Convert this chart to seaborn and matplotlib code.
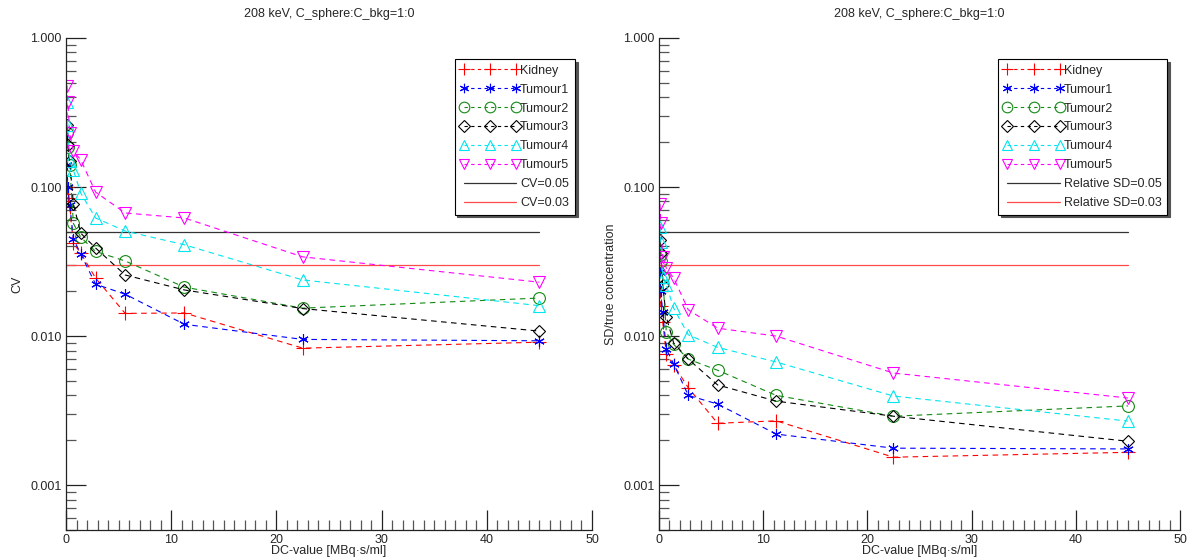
import numpy as np
import pandas as pd
import matplotlib
matplotlib.use("Agg")
import matplotlib.pyplot as plt
from matplotlib.lines import Line2D
from matplotlib.ticker import FixedLocator, FixedFormatter, MultipleLocator, LogLocator, NullFormatter
import seaborn as sns

# ---------------- data ----------------
dc_values = [0.088, 0.176, 0.352, 0.703, 1.406, 2.8125, 5.625, 11.25, 22.5, 45.0]
series_names = ["Kidney", "Tumour1", "Tumour2", "Tumour3", "Tumour4", "Tumour5"]

cv_kidney  = [0.100, 0.085, 0.073, 0.042, 0.036, 0.0245, 0.0142, 0.0143, 0.0083, 0.0091]
cv_tumour1 = [0.140, 0.100, 0.076, 0.045, 0.0355, 0.0223, 0.0191, 0.0120, 0.0095, 0.0093]
cv_tumour2 = [0.230, 0.185, 0.140, 0.057, 0.046, 0.037, 0.0319, 0.0213, 0.0154, 0.0180]
cv_tumour3 = [0.260, 0.190, 0.150, 0.077, 0.049, 0.039, 0.0257, 0.0204, 0.0153, 0.0108]
cv_tumour4 = [0.370, 0.260, 0.150, 0.130, 0.091, 0.062, 0.0507, 0.041, 0.0238, 0.0160]
cv_tumour5 = [0.480, 0.370, 0.230, 0.175, 0.152, 0.0925, 0.067, 0.062, 0.034, 0.0230]

sd_kidney  = [0.020, 0.016, 0.0125, 0.0076, 0.0064, 0.0045, 0.0026, 0.0027, 0.00154, 0.00166]
sd_tumour1 = [0.027, 0.020, 0.0145, 0.0082, 0.0065, 0.0040, 0.0035, 0.0022, 0.00177, 0.00175]
sd_tumour2 = [0.035, 0.032, 0.025, 0.0106, 0.0088, 0.0070, 0.0059, 0.0040, 0.0029, 0.0034]
sd_tumour3 = [0.044, 0.036, 0.022, 0.0134, 0.0090, 0.0070, 0.0047, 0.00366, 0.0029, 0.00197]
sd_tumour4 = [0.054, 0.043, 0.0248, 0.022, 0.0154, 0.0102, 0.0084, 0.0067, 0.00396, 0.00269]
sd_tumour5 = [0.077, 0.057, 0.034, 0.0286, 0.0245, 0.0150, 0.0113, 0.0100, 0.00565, 0.00384]

threshold_levels = [0.05, 0.03]
threshold_xrange = [0.0, 45.0]
cv_threshold_labels = ["CV=0.05", "CV=0.03"]
sd_threshold_labels = ["Relative SD=0.05", "Relative SD=0.03"]

title_text = "208 keV, C_sphere:C_bkg=1:0"
xlabel_text = "DC-value [MBq\u00b7s/ml]"
ylabels = ["CV", "SD/true concentration"]
ytick_values = [0.001, 0.01, 0.1, 1.0]
ytick_labels = ["0.001", "0.010", "0.100", "1.000"]
xtick_values = [0, 10, 20, 30, 40, 50]

# ---------------- styles ----------------
colors = ["#ff0000", "#0000ff", "#138a13", "#000000", "#00e5ee", "#ff00ff"]
markers = ["+", (6, 2, 0), "o", "D", "^", "v"]
msizes = [10, 7.5, 8.5, 6.5, 8, 8]
threshold_colors = ["#333333", "#ff4a4a"]

sns.set_theme(style="ticks")
plt.rcParams["font.family"] = ["Liberation Sans", "DejaVu Sans"]
plt.rcParams["font.size"] = 9

fig = plt.figure(figsize=(11.89, 5.6), dpi=100)
ax_l = fig.add_axes([66 / 1189, 30 / 560, 526 / 1189, 492 / 560])
ax_r = fig.add_axes([659 / 1189, 30 / 560, 521 / 1189, 492 / 560])

panels = [
    (ax_l, [cv_kidney, cv_tumour1, cv_tumour2, cv_tumour3, cv_tumour4, cv_tumour5], cv_threshold_labels, ylabels[0], (575 - 66) / 526),
    (ax_r, [sd_kidney, sd_tumour1, sd_tumour2, sd_tumour3, sd_tumour4, sd_tumour5], sd_threshold_labels, ylabels[1], (1167 - 659) / 521),
]

for ax, values, tlabels, ylab, lx in panels:
    handles = []
    for name, vals, c, m, ms in zip(series_names, values, colors, markers, msizes):
        df = pd.DataFrame({"x": dc_values, "y": vals})
        sns.lineplot(data=df, x="x", y="y", ax=ax, color=c, marker=m, markersize=ms,
                     markerfacecolor="none", markeredgecolor=c, markeredgewidth=0.8,
                     linestyle=(0, (5, 4)), linewidth=0.8, sort=False, legend=False)
        handles.append(Line2D([], [], color=c, marker=m, markersize=ms * 0.9, markerfacecolor="none",
                              markeredgecolor=c, markeredgewidth=0.8, linestyle=(0, (3, 3)),
                              linewidth=0.8, label=name))
    for lev, tc, tl in zip(threshold_levels, threshold_colors, tlabels):
        ax.plot(threshold_xrange, [lev, lev], color=tc, linewidth=0.9, zorder=1)
        handles.append(Line2D([], [], color=tc, linewidth=0.9, label=tl))

    ax.set_yscale("log")
    ax.set_ylim(0.0005, 1.0)
    ax.set_xlim(0, 50)
    ax.yaxis.set_major_locator(FixedLocator(ytick_values))
    ax.yaxis.set_major_formatter(FixedFormatter(ytick_labels))
    ax.yaxis.set_minor_locator(LogLocator(base=10, subs=np.arange(2, 10)))
    ax.yaxis.set_minor_formatter(NullFormatter())
    ax.xaxis.set_major_locator(FixedLocator(xtick_values))
    ax.xaxis.set_minor_locator(MultipleLocator(1))
    ax.tick_params(which="major", direction="in", length=14.5, width=0.9, color="#222222",
                   labelsize=9, pad=3)
    ax.tick_params(which="minor", direction="in", length=7.2, width=0.9, color="#555555")
    for s in ["top", "right"]:
        ax.spines[s].set_visible(False)
    for s in ["left", "bottom"]:
        ax.spines[s].set_color("#222222")
        ax.spines[s].set_linewidth(0.9)
    ax.set_title(title_text, fontsize=9, pad=15)
    ax.set_xlabel(xlabel_text, fontsize=9, labelpad=-1)
    ax.set_ylabel(ylab, fontsize=9, labelpad=5)

    leg = ax.legend(handles=handles, loc="upper right", bbox_to_anchor=(lx, 0.957),
                    borderaxespad=0, numpoints=3, handlelength=4.8, handletextpad=0.0,
                    labelspacing=0.55, fontsize=9, frameon=True, fancybox=False,
                    shadow={"color": "#555555", "alpha": 1.0}, borderpad=0.45)
    leg.get_frame().set_edgecolor("#000000")
    leg.get_frame().set_linewidth(0.8)
    leg.get_frame().set_facecolor("white")

fig.savefig("out.png", dpi=100)
